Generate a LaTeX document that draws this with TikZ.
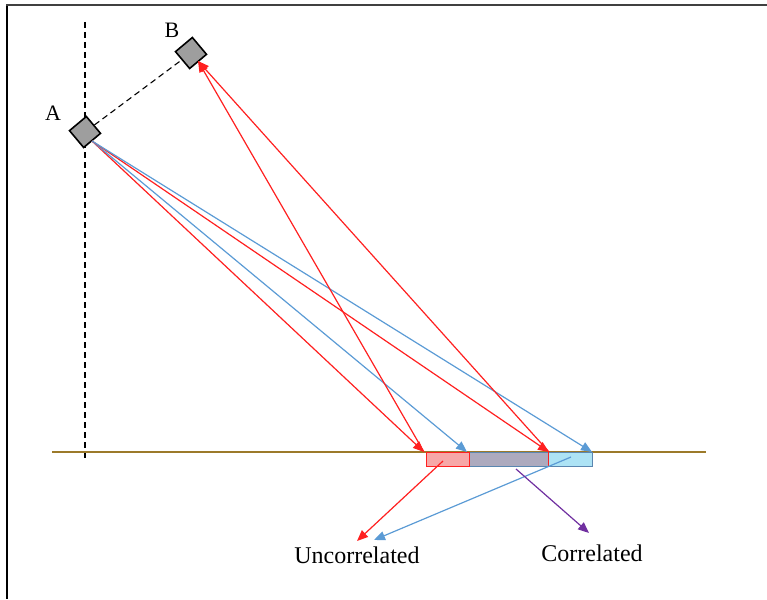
\documentclass[tikz,border=0pt]{standalone}
\usepackage{fontspec}
\setmainfont{Liberation Serif}
\usetikzlibrary{arrows.meta}
\definecolor{rd}{HTML}{FF2020}
\definecolor{bl}{HTML}{5B9BD5}
\definecolor{pu}{HTML}{7030A0}
\definecolor{gr}{HTML}{9C7A2A}
\definecolor{redfill}{HTML}{F7A8A8}
\definecolor{grayfill}{HTML}{ADAABE}
\definecolor{bluefill}{HTML}{ADE3F5}
\definecolor{steel}{HTML}{5A86B0}
\begin{document}
\begin{tikzpicture}[x=1pt,y=-1pt,
  sq/.style={draw=black,line width=1.6pt,fill=black!38,minimum size=22pt,inner sep=0pt,rotate=40},
  ray/.style={line width=1.2pt,-{Triangle[length=11pt,width=9pt]}},
  seg/.style={minimum height=14pt,inner sep=0pt,outer sep=0pt,anchor=north west,line width=1pt},
  lbl/.style={font=\fontsize{22}{26}\selectfont,inner sep=0pt},
  txt/.style={font=\fontsize{24}{28}\selectfont,inner sep=0pt}]
\useasboundingbox (0,0) rectangle (767,599);
% frame
\draw[line width=2pt,black] (7,5) -- (7,599);
\draw[line width=2.2pt,black!75] (6,5) -- (767,5);
% reference lines
\draw[line width=1.1pt,dash pattern=on 6pt off 4pt] (85,22) coordinate (vt) -- (85,460) coordinate (vb);
\draw[line width=1.2pt,gr] (52,452) coordinate (gl) -- (706,452) coordinate (gr);
% sensors
\node[sq] (A) at (85,132) {};
\node[sq] (B) at (191,53) {};
\draw[line width=1.1pt,dash pattern=on 6pt off 4pt] (A) -- (B);
\node[lbl] (la) at (53,113) {A};
\node[lbl] (lb) at (172,30) {B};
% bar
\node[seg,draw=steel,fill=grayfill,minimum width=79pt] (g) at (469,452) {};
\node[seg,draw=steel,fill=bluefill,minimum width=44pt] (b) at (548,452) {};
\node[seg,draw=rd,fill=redfill,minimum width=43pt] (r) at (426,452) {};
\draw[rd,line width=1pt] (g.north east) -- (g.south east);
% points on surface
\coordinate (o) at (92,141);
\coordinate (P1) at (424,452);
\coordinate (Q1) at (467,452);
\coordinate (P2) at (549,452);
\coordinate (Q2) at (592,452);
\coordinate (Bb) at (198,61);
\draw[ray,rd] (o) -- (P1);
\draw[ray,bl] (o) -- (Q1);
\draw[ray,rd] (o) -- (P2);
\draw[ray,bl] (o) -- (Q2);
\draw[ray,rd] (P1) -- (Bb);
\draw[ray,rd] (P2) -- (Bb);
% outputs
\node[txt] (u) at (357,555) {Uncorrelated};
\node[txt] (c) at (592,553) {Correlated};
\coordinate (rs) at (443,461);
\coordinate (bs) at (571,457);
\coordinate (ps) at (516,469);
\draw[ray,rd] (rs) -- (357,541);
\draw[ray,bl] (bs) -- (374,540);
\draw[ray,pu] (ps) -- (589,533);
\end{tikzpicture}
\end{document}
